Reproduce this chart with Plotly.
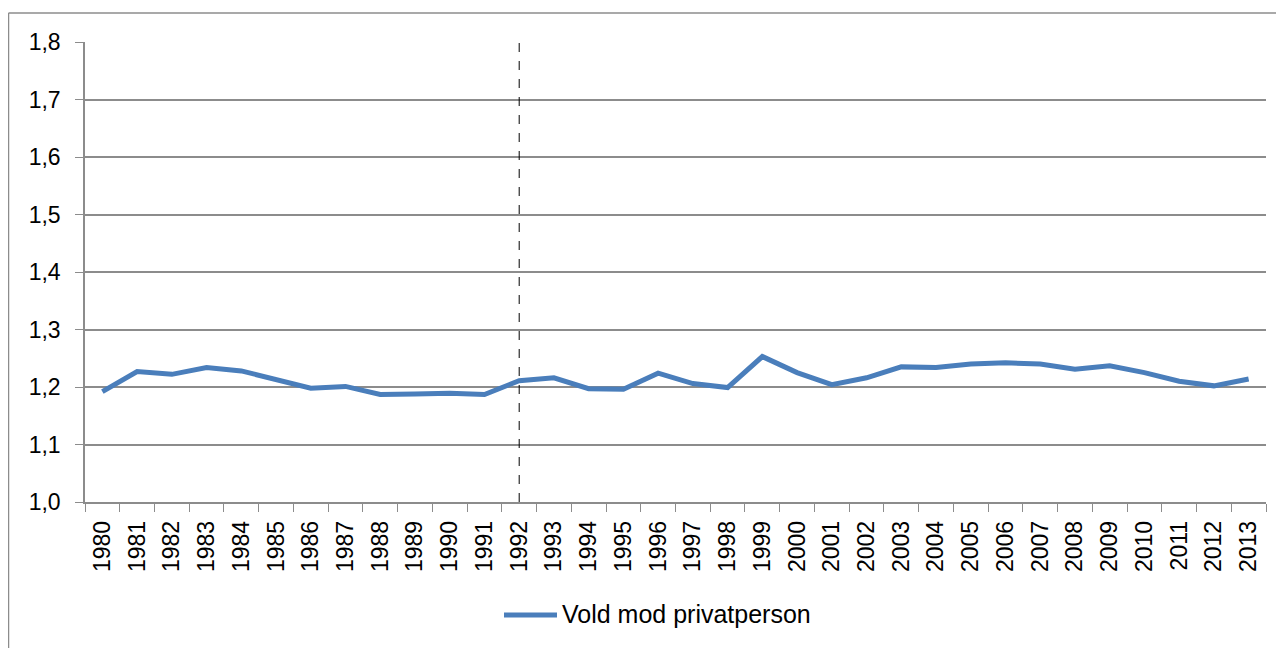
import plotly.graph_objects as go

years = [str(y) for y in range(1980, 2014)]
values = [1.192, 1.227, 1.222, 1.234, 1.228, 1.212, 1.198, 1.201, 1.187, 1.188,
          1.189, 1.187, 1.211, 1.216, 1.197, 1.196, 1.224, 1.206, 1.199, 1.253,
          1.225, 1.204, 1.216, 1.235, 1.234, 1.240, 1.242, 1.240, 1.231, 1.237,
          1.225, 1.210, 1.202, 1.214]
series_name = "Vold mod privatperson"
marker_year = "1992"

FONT = "Liberation Sans"
GRID = "#8c8c8c"
LINE = "#4a7ebb"
OFF = 8  # page body margin

fig = go.Figure()
fig.add_trace(go.Scatter(x=years, y=values, mode="lines", name=series_name,
                         line=dict(color=LINE, width=5), showlegend=False))

mi = years.index(marker_year)
fig.add_shape(type="line", xref="x", yref="y", x0=mi, x1=mi,
              y0=1.0, y1=1.8, line=dict(color="black", width=1, dash="dash"))

W, H = 1284, 648
L, R, T, B = 85 - OFF, 1284 - (1266 - OFF), 42 - OFF, 648 - (502 - OFF)
pw, ph = W - L - R, H - T - B
def px(x):
    return (x - OFF - L) / pw
def py(y):
    return (H - B - (y - OFF)) / ph

# outer chart frame (left and top edges)
fig.add_shape(type="line", xref="paper", yref="paper", x0=px(8.5), x1=px(8.5),
              y0=py(13), y1=py(700), line=dict(color=GRID, width=1.5))
fig.add_shape(type="line", xref="paper", yref="paper", x0=px(8.5), x1=px(1320),
              y0=py(13), y1=py(13), line=dict(color=GRID, width=1.5))

# legend (drawn manually to match the long line sample)
fig.add_shape(type="line", xref="paper", yref="paper", x0=px(504), x1=px(557),
              y0=py(615), y1=py(615), line=dict(color=LINE, width=5))
fig.add_annotation(xref="paper", yref="paper", x=px(560), y=py(614), text=series_name,
                   showarrow=False, xanchor="left", yanchor="middle",
                   font=dict(size=25, family=FONT, color="black"))

fig.update_layout(
    width=W, height=H,
    margin=dict(l=L, r=R, t=T, b=B),
    paper_bgcolor="white", plot_bgcolor="white",
    separators=",.",
    font=dict(family=FONT, size=23, color="black"),
    showlegend=False,
)
fig.update_xaxes(type="category", range=[-0.5, len(years) - 0.5], tickangle=-90,
                 ticks="outside", ticklen=8, tickcolor=GRID, tickson="boundaries",
                 showline=True, linecolor=GRID, linewidth=1.5, showgrid=False,
                 tickfont=dict(size=23), ticklabelstandoff=8)
fig.update_yaxes(range=[1.0, 1.8], dtick=0.1, tickformat=".1f", ticks="outside",
                 ticklen=8, tickcolor=GRID, showline=True, linecolor=GRID, linewidth=1.5,
                 showgrid=True, gridcolor=GRID, gridwidth=1.5, zeroline=False,
                 tickfont=dict(size=23), ticklabelstandoff=10)

fig.write_html("out.html")
